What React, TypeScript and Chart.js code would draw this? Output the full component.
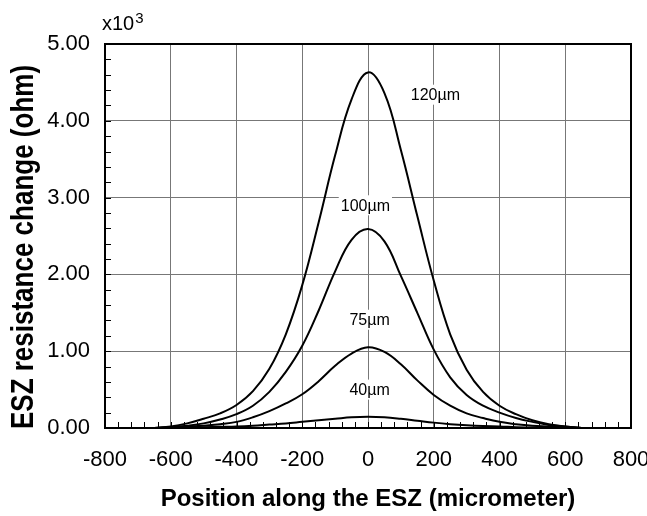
import React, { useEffect, useRef } from "react";
import { Chart, registerables } from "chart.js";

Chart.register(...registerables);

// Position along the sensing zone (micrometer)
const positions = [
  -650, -600, -550, -500, -450, -400, -350, -300, -250, -200, -150, -100, -50, 0,
  50, 100, 150, 200, 250, 300, 350, 400, 450, 500, 550, 600, 650,
];

// Resistance change (x10^3 ohm) for each particle diameter
const r120 = [
  0, 0.02, 0.06, 0.12, 0.19, 0.3, 0.48, 0.77, 1.22, 1.86, 2.68, 3.55, 4.28, 4.63,
  4.36, 3.62, 2.76, 1.92, 1.22, 0.76, 0.47, 0.29, 0.18, 0.1, 0.05, 0.02, 0,
];
const r100 = [
  0, 0.01, 0.03, 0.06, 0.11, 0.18, 0.29, 0.47, 0.73, 1.07, 1.53, 2.04, 2.45, 2.59,
  2.43, 1.98, 1.5, 1.02, 0.66, 0.43, 0.29, 0.2, 0.13, 0.08, 0.04, 0.02, 0,
];
const r75 = [
  0, 0.01, 0.02, 0.03, 0.05, 0.08, 0.14, 0.22, 0.32, 0.44, 0.61, 0.81, 0.97, 1.05,
  0.99, 0.83, 0.62, 0.43, 0.29, 0.19, 0.13, 0.08, 0.05, 0.03, 0.02, 0.01, 0,
];
const r40 = [
  0, 0.003, 0.005, 0.01, 0.015, 0.02, 0.03, 0.045, 0.06, 0.08, 0.1, 0.12, 0.14,
  0.147, 0.14, 0.12, 0.095, 0.07, 0.05, 0.035, 0.025, 0.02, 0.01, 0.007, 0.004,
  0.002, 0,
];

const seriesNames = ["120\u00b5m", "100\u00b5m", "75\u00b5m", "40\u00b5m"];
const seriesValues = [r120, r100, r75, r40];

// Where each curve's name is written (data coordinates)
const labelX = [205, -8, 5, 5];
const labelY = [4.34, 2.9, 1.41, 0.5];

// Axis ranges
const xMin = -800;
const xMax = 800;
const xStep = 200;
const xMinorStep = 40;
const yMin = 0;
const yMax = 5;
const yStep = 1;
const yMinorStep = 0.2;

const xTitle = "Position along the ESZ (micrometer)";
const yTitle = "ESZ resistance change (ohm)";

const FONT = "'Liberation Sans', Arial, Helvetica, sans-serif";

const decorations = {
  id: "decorations",
  beforeDatasetsDraw(chart: any) {
    const { ctx, scales } = chart;
    const xs = scales.x;
    const ys = scales.y;
    ctx.save();
    ctx.font = `16px ${FONT}`;
    ctx.textAlign = "center";
    ctx.textBaseline = "middle";
    seriesNames.forEach((name, i) => {
      const px = xs.getPixelForValue(labelX[i]);
      const py = ys.getPixelForValue(labelY[i]);
      const w = ctx.measureText(name).width + 4;
      ctx.fillStyle = "#ffffff";
      ctx.fillRect(px - w / 2, py - 10, w, 20);
      ctx.fillStyle = "#000000";
      ctx.fillText(name, px, py + 1);
    });
    ctx.restore();
  },
  afterDatasetsDraw(chart: any) {
    const { ctx, scales, chartArea } = chart;
    const xs = scales.x;
    const ys = scales.y;
    const { left, right, top, bottom } = chartArea;
    ctx.save();
    // inward minor ticks on the bottom and left axes
    ctx.strokeStyle = "#000000";
    ctx.lineWidth = 1;
    ctx.beginPath();
    for (let v = xMin; v <= xMax + 1e-9; v += xMinorStep) {
      const px = Math.round(xs.getPixelForValue(v)) + 0.5;
      ctx.moveTo(px, bottom);
      ctx.lineTo(px, bottom - 6);
    }
    for (let v = yMin; v <= yMax + 1e-9; v += yMinorStep) {
      const py = Math.round(ys.getPixelForValue(v)) + 0.5;
      ctx.moveTo(left, py);
      ctx.lineTo(left + 6, py);
    }
    ctx.stroke();
    // frame
    ctx.lineWidth = 2;
    ctx.strokeRect(left, top, right - left, bottom - top);
    ctx.restore();
  },
  afterDraw(chart: any) {
    const { ctx } = chart;
    ctx.save();
    ctx.fillStyle = "#000000";
    // y-axis title
    ctx.translate(33, 247);
    ctx.rotate(-Math.PI / 2);
    ctx.scale(1, 1.2);
    ctx.font = `bold 26px ${FONT}`;
    ctx.textAlign = "center";
    ctx.textBaseline = "alphabetic";
    ctx.fillText(yTitle, 0, 0);
    ctx.restore();

    // multiplier above the y axis
    ctx.save();
    ctx.fillStyle = "#000000";
    ctx.textAlign = "left";
    ctx.textBaseline = "alphabetic";
    ctx.font = `20px ${FONT}`;
    ctx.fillText("x10", 102, 30);
    const w = ctx.measureText("x10").width;
    ctx.font = `15px ${FONT}`;
    ctx.fillText("3", 102 + w + 1, 23);
    ctx.restore();
  },
};

export default function App() {
  const canvasRef = useRef<HTMLCanvasElement | null>(null);

  useEffect(() => {
    const canvas = canvasRef.current;
    if (!canvas) return;

    const datasets = seriesValues.map((vals, i) => ({
      label: seriesNames[i],
      data: positions.map((p, j) => ({ x: p, y: vals[j] })),
      borderColor: "#000000",
      backgroundColor: "#000000",
      borderWidth: 2,
      pointRadius: 0,
      fill: false,
      tension: 0.4,
    }));

    const chart = new Chart(canvas, {
      type: "line",
      data: { datasets },
      options: {
        responsive: false,
        animation: false,
        events: [],
        layout: { padding: { left: 0, top: 44, right: 16, bottom: 0 } },
        plugins: {
          legend: { display: false },
          tooltip: { enabled: false },
          title: { display: false },
        },
        scales: {
          x: {
            type: "linear",
            min: xMin,
            max: xMax,
            grid: { color: "#777777", lineWidth: 1, drawTicks: false },
            border: { display: false },
            ticks: {
              stepSize: xStep,
              padding: 19,
              color: "#000000",
              font: { family: FONT, size: 22 },
              maxRotation: 0,
              callback: (v: any) => String(v),
            },
            title: {
              display: true,
              text: xTitle,
              color: "#000000",
              font: { family: FONT, size: 24, weight: "bold" },
              padding: { top: 0, bottom: 2 },
            },
            afterFit: (scale: any) => {
              scale.height = 88;
              scale.paddingLeft = 0;
              scale.paddingRight = 0;
            },
          },
          y: {
            type: "linear",
            min: yMin,
            max: yMax,
            grid: { color: "#777777", lineWidth: 1, drawTicks: false },
            border: { display: false },
            ticks: {
              stepSize: yStep,
              padding: 15,
              color: "#000000",
              font: { family: FONT, size: 22 },
              callback: (v: any) => Number(v).toFixed(2),
            },
            afterFit: (scale: any) => {
              scale.width = 105;
            },
          },
        },
      },
      plugins: [decorations],
    });

    return () => chart.destroy();
  }, []);

  return (
    <div style={{ position: "absolute", left: 0, top: 0, width: 647, height: 516, background: "#ffffff" }}>
      <canvas ref={canvasRef} width={647} height={516} style={{ display: "block" }} />
    </div>
  );
}
